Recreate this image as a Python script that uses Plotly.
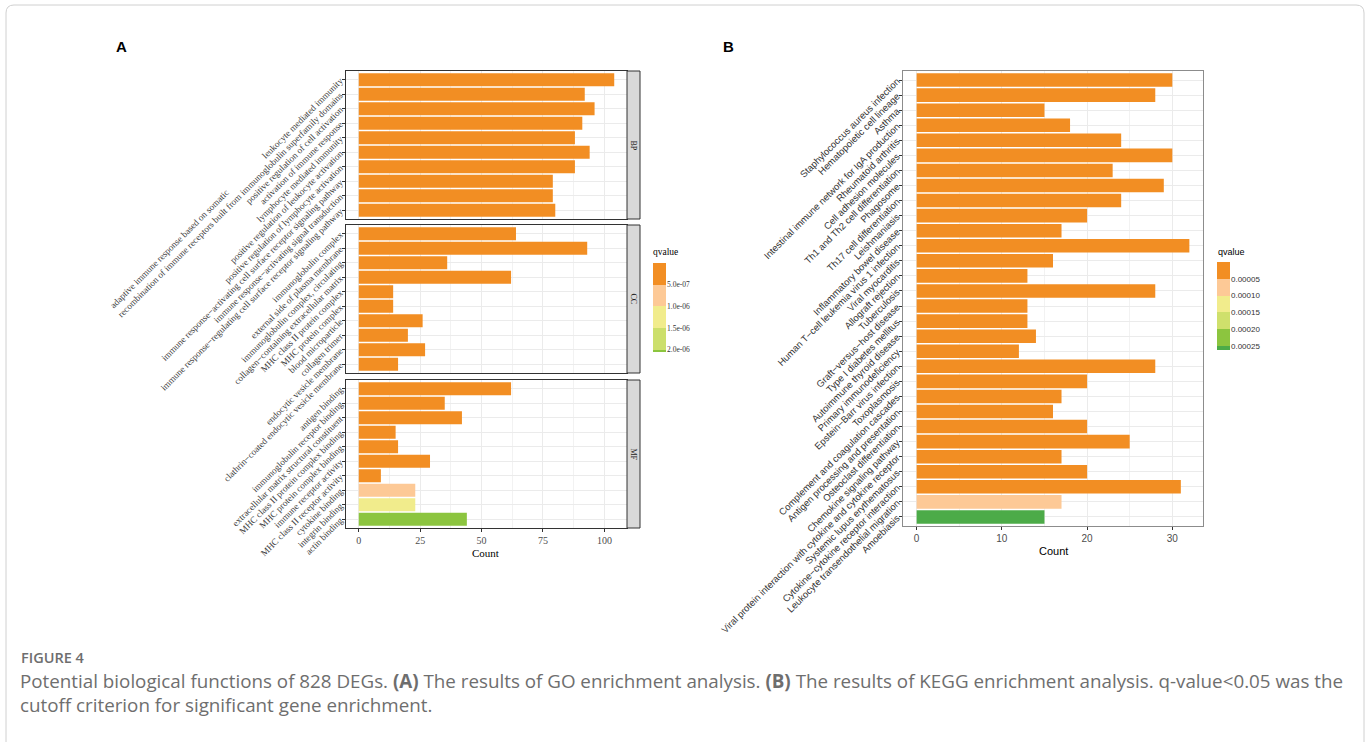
import plotly.graph_objects as go

W, H = 1370, 742

# ---------------- GO enrichment (panel A) ----------------
NBSP = "\u00a0"
bp_terms = [
    "leukocyte mediated immunity",
    "adaptive immune response based on somatic" + NBSP * 65 +
    "<br>recombination of immune receptors built from immunoglobulin superfamily domains",
    "positive regulation of cell activation",
    "activation of immune response",
    "lymphocyte mediated immunity",
    "positive regulation of leukocyte activation",
    "positive regulation of lymphocyte activation",
    "immune response−activating cell surface receptor signaling pathway",
    "immune response−activating signal transduction",
    "immune response−regulating cell surface receptor signaling pathway",
]
bp_counts = [104, 92, 96, 91, 88, 94, 88, 79, 79, 80]
bp_q = [1.1e-30, 3.4e-28, 2.2e-27, 5.0e-26, 8.7e-26, 1.2e-25, 4.4e-25, 2.0e-24, 3.1e-24, 6.5e-24]

cc_terms = [
    "immunoglobulin complex",
    "external side of plasma membrane",
    "immunoglobulin complex, circulating",
    "collagen−containing extracellular matrix",
    "MHC class II protein complex",
    "MHC protein complex",
    "blood microparticle",
    "collagen trimer",
    "endocytic vesicle membrane",
    "clathrin−coated endocytic vesicle membrane",
]
cc_counts = [64, 93, 36, 62, 14, 14, 26, 20, 27, 16]
cc_q = [2.3e-40, 5.1e-30, 1.8e-18, 4.2e-12, 7.7e-12, 9.6e-11, 3.5e-10, 8.1e-10, 2.4e-09, 6.0e-09]

mf_terms = [
    "antigen binding",
    "immunoglobulin receptor binding",
    "extracellular matrix structural constituent",
    "MHC class II protein complex binding",
    "MHC protein complex binding",
    "immune receptor activity",
    "MHC class II receptor activity",
    "cytokine binding",
    "integrin binding",
    "actin binding",
]
mf_counts = [62, 35, 42, 15, 16, 29, 9, 23, 23, 44]
mf_q = [4.5e-34, 1.6e-24, 2.8e-10, 5.3e-10, 7.9e-10, 3.3e-08, 1.5e-07, 7.6e-07, 1.32e-06, 2.05e-06]

go_breaks = [5.0e-07, 1.0e-06, 1.5e-06, 2.0e-06]
go_break_labels = ["5.0e-07", "1.0e-06", "1.5e-06", "2.0e-06"]
go_colors = ["#F28E23", "#FDC996", "#F1EC8C", "#CCDF6B", "#8CC53F"]

# ---------------- KEGG enrichment (panel B) ----------------
kegg_terms = [
    "Staphylococcus aureus infection",
    "Hematopoietic cell lineage",
    "Asthma",
    "Intestinal immune network for IgA production",
    "Rheumatoid arthritis",
    "Cell adhesion molecules",
    "Th1 and Th2 cell differentiation",
    "Phagosome",
    "Th17 cell differentiation",
    "Leishmaniasis",
    "Inflammatory bowel disease",
    "Human T−cell leukemia virus 1 infection",
    "Viral myocarditis",
    "Allograft rejection",
    "Tuberculosis",
    "Graft−versus−host disease",
    "Type I diabetes mellitus",
    "Autoimmune thyroid disease",
    "Primary immunodeficiency",
    "Epstein−Barr virus infection",
    "Toxoplasmosis",
    "Complement and coagulation cascades",
    "Antigen processing and presentation",
    "Osteoclast differentiation",
    "Chemokine signaling pathway",
    "Viral protein interaction with cytokine and cytokine receptor",
    "Systemic lupus erythematosus",
    "Cytokine−cytokine receptor interaction",
    "Leukocyte transendothelial migration",
    "Amoebiasis",
]
kegg_counts = [30, 28, 15, 18, 24, 30, 23, 29, 24, 20, 17, 32, 16, 13, 28,
               13, 13, 14, 12, 28, 20, 17, 16, 20, 25, 17, 20, 31, 17, 15]
kegg_q = [1.2e-17, 3.5e-16, 2.1e-12, 4.8e-12, 6.3e-12, 9.0e-12, 1.4e-11, 2.7e-11,
          5.5e-11, 8.2e-11, 1.6e-10, 2.9e-10, 4.1e-10, 7.4e-10, 1.1e-09, 2.3e-09,
          3.8e-09, 6.0e-09, 9.9e-09, 2.4e-08, 5.7e-08, 1.3e-07, 4.6e-07, 9.8e-07,
          2.2e-06, 5.1e-06, 9.4e-06, 2.0e-05, 7.1e-05, 2.62e-04]

kegg_breaks = [5e-05, 1e-04, 1.5e-04, 2e-04, 2.5e-04]
kegg_break_labels = ["0.00005", "0.00010", "0.00015", "0.00020", "0.00025"]
kegg_colors = ["#F28E23", "#FDC996", "#F1EC8C", "#CFE06C", "#8CC53F", "#4CAB48"]


def px(x):
    return x / W


def py(y):
    return 1 - y / H


def binned_scale(edges, colors):
    lo, hi = edges[0], edges[-1]
    scale = []
    for i, c in enumerate(colors):
        scale.append([(edges[i] - lo) / (hi - lo), c])
        scale.append([(edges[i + 1] - lo) / (hi - lo), c])
    return scale


go_qmax = max(bp_q + cc_q + mf_q)
go_edges = [0.0] + [b for b in go_breaks if b < go_qmax] + [go_qmax]
go_scale = binned_scale(go_edges, go_colors[:len(go_edges) - 1])

kegg_qmax = max(kegg_q)
kegg_edges = [0.0] + [b for b in kegg_breaks if b < kegg_qmax] + [kegg_qmax]
kegg_scale = binned_scale(kegg_edges, kegg_colors[:len(kegg_edges) - 1])

SERIF = "Liberation Serif, Times New Roman, serif"
SANS = "Liberation Sans, Arial, sans-serif"
CAPTION = "Open Sans, sans-serif"

fig = go.Figure()

# facet layout of panel A
facets = [
    ("BP", bp_terms, bp_counts, bp_q, 71, 219),
    ("CC", cc_terms, cc_counts, cc_q, 225, 373),
    ("MF", mf_terms, mf_counts, mf_q, 380, 528),
]
ax_left, ax_right, strip_right = 346, 627, 640
go_xrange = [-5.2, 109.2]

layout = dict(
    template="none",
    width=W, height=H, margin=dict(l=0, r=0, t=0, b=0, pad=0),
    paper_bgcolor="white", plot_bgcolor="white", showlegend=False,
)

shapes = []
annotations = []


def note(x, y, text, font, xanchor="center", yanchor="middle", **kw):
    annotations.append(dict(xref="paper", yref="paper", x=px(x), y=py(y), text=text,
                            xanchor=xanchor, yanchor=yanchor, showarrow=False,
                            font=font, **kw))


for i, (name, terms, counts, qs, top, bot) in enumerate(facets, start=1):
    xa = "x" if i == 1 else f"x{i}"
    ya = "y" if i == 1 else f"y{i}"
    fig.add_trace(go.Bar(
        x=counts, y=terms, orientation="h", width=0.9,
        marker=dict(color=qs, colorscale=go_scale, cmin=0, cmax=go_qmax,
                    showscale=False, line=dict(width=0)),
        xaxis=xa, yaxis=ya, hovertemplate="%{y}: %{x}<extra></extra>",
    ))
    bottom = (i == 3)
    layout["xaxis" if i == 1 else f"xaxis{i}"] = dict(
        domain=[px(ax_left), px(ax_right)], anchor=ya, range=go_xrange,
        automargin=False,
        tickmode="array", tickvals=[0, 25, 50, 75, 100], showticklabels=bottom,
        ticks="outside" if bottom else "", ticklen=3, tickcolor="#333333",
        tickfont=dict(family=SERIF, size=10, color="#4D4D4D"),
        showgrid=True, gridcolor="#EBEBEB", gridwidth=1, zeroline=False,
        minor=dict(tickmode="linear", dtick=12.5, tick0=0, showgrid=True,
                   gridcolor="#F2F2F2", ticks=""),
        showline=True, linecolor="#333333", linewidth=1, mirror=True,
    )
    n = len(terms)
    layout["yaxis" if i == 1 else f"yaxis{i}"] = dict(
        domain=[py(bot), py(top)], anchor=xa, type="category", automargin=False,
        categoryorder="array", categoryarray=terms,
        range=[n - 1 + 0.6, -0.6],
        tickmode="array", tickvals=terms, ticktext=terms, tickangle=-45,
        ticks="outside", ticklen=3, tickcolor="#333333",
        tickfont=dict(family=SERIF, size=9.2, color="#404040"),
        showgrid=True, gridcolor="#EBEBEB", zeroline=False,
        showline=True, linecolor="#333333", linewidth=1, mirror=True,
    )
    # facet strip on the right
    shapes.append(dict(type="rect", xref="paper", yref="paper",
                       x0=px(ax_right), x1=px(strip_right), y0=py(bot), y1=py(top),
                       fillcolor="#D9D9D9", line=dict(color="#333333", width=1)))
    note((ax_right + strip_right) / 2, (top + bot) / 2, name,
         dict(family=SERIF, size=8, color="#1A1A1A"), textangle=90)

note(486, 553, "Count", dict(family=SERIF, size=11, color="#000000"))

# panel B
fig.add_trace(go.Bar(
    x=kegg_counts, y=kegg_terms, orientation="h", width=0.9,
    marker=dict(color=kegg_q, colorscale=kegg_scale, cmin=0, cmax=kegg_qmax,
                showscale=False, line=dict(width=0)),
    xaxis="x4", yaxis="y4", hovertemplate="%{y}: %{x}<extra></extra>",
))
nk = len(kegg_terms)
layout["xaxis4"] = dict(
    domain=[px(903), px(1203)], anchor="y4", range=[-1.6, 33.6], automargin=False,
    tickmode="array", tickvals=[0, 10, 20, 30], ticks="outside", ticklen=3,
    tickcolor="#333333",
    tickfont=dict(family=SANS, size=10, color="#4D4D4D"),
    showgrid=True, gridcolor="#EBEBEB", zeroline=False,
    minor=dict(tickmode="linear", dtick=5, tick0=0, showgrid=True,
               gridcolor="#F2F2F2", ticks=""),
    showline=True, linecolor="#8C8C8C", linewidth=1, mirror=True,
)
layout["yaxis4"] = dict(
    domain=[py(526), py(71)], anchor="x4", type="category", automargin=False,
    categoryorder="array", categoryarray=kegg_terms,
    range=[nk - 1 + 0.6, -0.6],
    tickmode="array", tickvals=kegg_terms, ticktext=kegg_terms, tickangle=-45,
    ticks="outside", ticklen=3, tickcolor="#333333",
    tickfont=dict(family=SANS, size=9.5, color="#333333"),
    showgrid=True, gridcolor="#EBEBEB", zeroline=False,
    showline=True, linecolor="#8C8C8C", linewidth=1, mirror=True,
)
note(1053, 551, "Count", dict(family=SANS, size=11, color="#000000"))


# stepped qvalue keys
def add_key(idx, edges, scale, qmax, breaks, labels, x0, x1, y0, y1, font):
    fig.add_trace(go.Heatmap(
        z=[[(edges[k] + edges[k + 1]) / 2] for k in range(len(edges) - 1)],
        y=edges, x=[0, 1], colorscale=scale, zmin=0, zmax=qmax,
        showscale=False, hoverinfo="skip",
        xaxis=f"x{idx}", yaxis=f"y{idx}",
    ))
    layout[f"xaxis{idx}"] = dict(domain=[px(x0), px(x1)], anchor=f"y{idx}",
                                 range=[0, 1], visible=False, automargin=False)
    keep = [(b, l) for b, l in zip(breaks, labels) if b <= qmax]
    layout[f"yaxis{idx}"] = dict(
        domain=[py(y1), py(y0)], anchor=f"x{idx}", side="right", automargin=False,
        range=[qmax, 0], tickmode="array",
        tickvals=[b for b, _ in keep], ticktext=[l for _, l in keep],
        ticks="", showgrid=False, zeroline=False, showline=False,
        tickfont=font,
    )


add_key(5, go_edges, go_scale, go_qmax, go_breaks, go_break_labels,
        653, 666, 263, 352, dict(family=SERIF, size=7.5, color="#333333"))
note(651, 252, "qvalue", dict(family=SERIF, size=9.5, color="#000000"), xanchor="left")

add_key(6, kegg_edges, kegg_scale, kegg_qmax, kegg_breaks, kegg_break_labels,
        1217, 1230, 262, 350, dict(family=SANS, size=8, color="#333333"))
note(1216, 252, "qvalue", dict(family=SANS, size=9, color="#000000"), xanchor="left")

# panel letters
for letter, lx in (("A", 121), ("B", 728)):
    note(lx, 47, f"<b>{letter}</b>", dict(family=SANS, size=15, color="#000000"))

# caption
note(19, 657, "FIGURE 4", dict(family=CAPTION, size=14.5, weight=600, color="#6E6E6E"),
     xanchor="left")
note(18, 693,
     ("Potential biological functions of 828 DEGs. <b>(A)</b> The results of GO enrichment analysis. "
      "<b>(B)</b> The results of KEGG enrichment analysis. q-value&lt;0.05 was the<br>"
      "cutoff criterion for significant gene enrichment."),
     dict(family=CAPTION, size=18.8, color="#6E6E6E"), xanchor="left", align="left")

# page frame
r = 8
x0f, y0f, x1f, y1f = 6, 5, 1364, 760
shapes.append(dict(
    type="path", xref="paper", yref="paper",
    path=(f"M {px(x0f)},{py(y1f)} L {px(x0f)},{py(y0f + r)} "
          f"Q {px(x0f)},{py(y0f)} {px(x0f + r)},{py(y0f)} "
          f"L {px(x1f - r)},{py(y0f)} Q {px(x1f)},{py(y0f)} {px(x1f)},{py(y0f + r)} "
          f"L {px(x1f)},{py(y1f)}"),
    line=dict(color="#D0D0D0", width=1),
))

layout["shapes"] = shapes
layout["annotations"] = annotations
fig.update_layout(**layout)

fig.write_html("out.html")
